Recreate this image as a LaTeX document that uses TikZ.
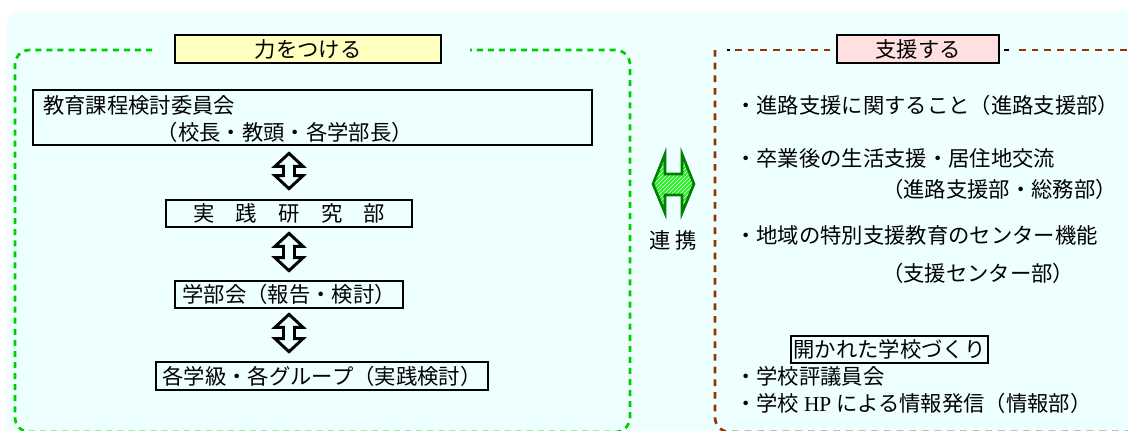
\documentclass[tikz,border=0pt]{standalone}
\usepackage{fontspec}
\setmainfont{Noto Sans CJK JP}
\newfontfamily\hpfont{Liberation Serif}
\usetikzlibrary{calc,fit,patterns}
\definecolor{bgc}{HTML}{EEFFFF}
\definecolor{gdc}{HTML}{00CC00}
\definecolor{brc}{HTML}{993300}
\definecolor{ylw}{HTML}{FFFFC0}
\definecolor{pnk}{HTML}{FFE0E0}
\definecolor{darkg}{HTML}{008000}
\definecolor{brightg}{HTML}{22EE22}
\newcommand\vdarrow[2]{%
 \draw[varrow] (#1) -- ($(#1)+(14,13)$) -- ($(#1)+(5.5,13)$) -- ($(#2)+(5.5,-13)$) -- ($(#2)+(14,-13)$) -- (#2) -- ($(#2)+(-14,-13)$) -- ($(#2)+(-5.5,-13)$) -- ($(#1)+(-5.5,13)$) -- ($(#1)+(-14,13)$) -- cycle;}
\begin{document}
\begin{tikzpicture}[x=0.75pt,y=-0.75pt,
 every node/.style={font=\fontsize{16pt}{19pt}\selectfont, inner sep=0pt},
 box/.style={draw=black, line width=2pt, inner sep=0pt},
 gdash/.style={draw=gdc, line width=2pt, dash pattern=on 4.5pt off 3.8pt},
 bdash/.style={draw=brc, line width=2pt, dash pattern=on 5pt off 4.5pt},
 varrow/.style={draw=black, line width=2.2pt, line join=miter},
 garrow/.style={draw=darkg, line width=2pt, preaction={fill=brightg}, pattern=north east lines, pattern color=white}]
\useasboundingbox (0,0) rectangle (1128,430);
\clip (0,0) rectangle (1128,430);
% background
\fill[bgc, rounded corners=8] (7,11) rectangle (1140,445);
% green dashed frame
\draw[gdash, rounded corners=11] (152,50) -- (15,50) -- (15,432) -- (630,432) -- (630,50) -- (470,50);
% brown dashed frame
\draw[bdash] (735,50) -- (835,50);
\draw[bdash] (1019,50) -- (1140,50);
\draw[bdash, rounded corners=11] (715,50) -- (715,432) -- (1140,432);
\draw[black, line width=2pt] (727,50) -- (730,50);
\draw[black, line width=2pt] (1004,50) -- (1009,50);
% titles
\node[box, fill=ylw, fit={(175,35) (441,63)}] (t1) {};
\node (t1x) at (t1.center) {力をつける};
\node[box, fill=pnk, fit={(837,35) (999,63)}] (t2) {};
\node (t2x) at (t2.center) {支援する};
% left boxes
\node[box, fit={(33,90) (592,145)}] (b1) {};
\node[anchor=west] (b1a) at (43,105) {教育課程検討委員会};
\node[anchor=east] (b1b) at (413,132) {（校長・教頭・各学部長）};
\node[box, fit={(166,200) (412,227)}] (b2) {};
\node (b2x) at (b2.center) {実　践　研　究　部};
\node[box, fit={(175,281) (403,308)}] (b3) {};
\node (b3x) at (b3.center) {学部会（報告・検討）};
\node[box, fit={(156,362) (488,390)}] (b4) {};
\node (b4x) at (b4.center) {各学級・各グループ（実践検討）};
% vertical double arrows
\coordinate (a1t) at ($(b1.south -| b2.north)+(0,7)$);
\coordinate (a1b) at ($(b2.north)+(0,-10)$);
\coordinate (a2t) at ($(b2.south)+(0,5)$);
\coordinate (a2b) at ($(b3.north)+(0,-9)$);
\coordinate (a3t) at ($(b3.south)+(0,5)$);
\coordinate (a3b) at ($(b4.north -| b3.south)+(0,-9)$);
\vdarrow{a1t}{a1b}
\vdarrow{a2t}{a2b}
\vdarrow{a3t}{a3b}
% green linking arrow
\coordinate (gl) at (653,184);
\coordinate (gr) at (694,184);
\draw[garrow] (gl) -- ($(gl)+(12,-30)$) -- ($(gl)+(12,-10)$) -- ($(gr)+(-12,-10)$) -- ($(gr)+(-12,-30)$) -- (gr) -- ($(gr)+(-12,29)$) -- ($(gr)+(-12,11)$) -- ($(gl)+(12,11)$) -- ($(gl)+(12,29)$) -- cycle;
\node (rk) at (673,240) {連 携};
% right texts
\node[anchor=west] (r1) at (735,105) {・進路支援に関すること（進路支援部）};
\node[anchor=west] (r2) at (735,158) {・卒業後の生活支援・居住地交流};
\node[anchor=west] (r2b) at (882,189) {（進路支援部・総務部）};
\node[anchor=west] (r3) at (735,235) {・地域の特別支援教育のセンター機能};
\node[anchor=west] (r3b) at (882,273) {（支援センター部）};
\node[box, fit={(791,336) (988,363)}] (ob) {};
\node (obx) at (ob.center) {開かれた学校づくり};
\node[anchor=west] (r4) at (735,376) {・学校評議員会};
\node[anchor=west] (r5) at (735,403) {・学校 {\hpfont HP} による情報発信（情報部）};
\end{tikzpicture}
\end{document}
